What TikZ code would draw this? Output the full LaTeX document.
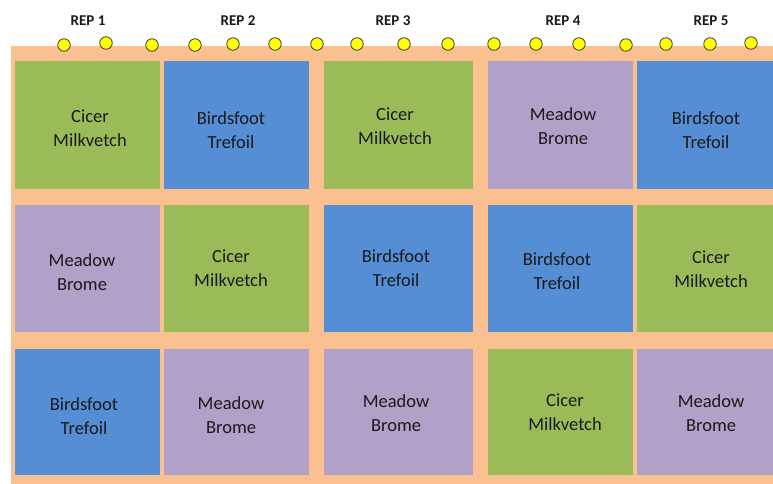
\documentclass[tikz,border=0pt]{standalone}
\usepackage{fontspec}
\setmainfont{Carlito}
\definecolor{cgreen}{HTML}{9BBB59}
\definecolor{cblue}{HTML}{558ED5}
\definecolor{cpurple}{HTML}{B1A0C7}
\definecolor{corange}{HTML}{FAC090}
\definecolor{cdot}{HTML}{FFFF00}
\definecolor{ctext}{HTML}{1A1A1A}
\begin{document}
\begin{tikzpicture}[x=1pt,y=-1pt,
  cell/.style={anchor=north west,inner sep=0pt,outer sep=0pt,draw=none},
  lbl/.style={align=center,inner sep=0pt,text=ctext,font=\fontsize{18.5}{23.5}\selectfont},
  rep/.style={inner sep=0pt,text=ctext,font=\fontsize{15}{17}\selectfont\bfseries},
  dot/.style={circle,fill=cdot,draw=black!75,line width=0.8pt,minimum size=12.5pt,inner sep=0pt}]
\useasboundingbox (0,0) rectangle (773,484);
\fill[white] (0,0) rectangle (773,484);
\node[cell,fill=corange,minimum width=762pt,minimum height=438pt] (field) at (11,46) {};
% cells
\foreach \n/\x/\y/\w/\h/\c in {
 c11/15/61/145/128/cgreen, c12/164/61/145/128/cblue, c13/324/61/149/128/cgreen, c14/488/61/145/128/cpurple, c15/637/61/136/128/cblue,
 c21/15/205/145/127/cpurple, c22/164/205/145/127/cgreen, c23/324/205/149/127/cblue, c24/488/205/145/127/cblue, c25/637/205/136/127/cgreen,
 c31/15/349/145/126/cblue, c32/164/349/145/126/cpurple, c33/324/349/149/126/cpurple, c34/488/349/145/126/cgreen, c35/637/349/136/126/cpurple}
 {\node[cell,fill=\c,minimum width=\w pt,minimum height=\h pt] (\n) at (\x,\y) {};}
% labels
\node[lbl] (t11) at (90,128) {Cicer\\Milkvetch};
\node[lbl] (t12) at (231,130) {Birdsfoot\\Trefoil};
\node[lbl] (t13) at (395,126) {Cicer\\Milkvetch};
\node[lbl] (t14) at (563,126) {Meadow\\Brome};
\node[lbl] (t15) at (706,130) {Birdsfoot\\Trefoil};
\node[lbl] (t21) at (82,272) {Meadow\\Brome};
\node[lbl] (t22) at (231,268) {Cicer\\Milkvetch};
\node[lbl] (t23) at (396,268) {Birdsfoot\\Trefoil};
\node[lbl] (t24) at (557,271) {Birdsfoot\\Trefoil};
\node[lbl] (t25) at (711,269) {Cicer\\Milkvetch};
\node[lbl] (t31) at (84,416) {Birdsfoot\\Trefoil};
\node[lbl] (t32) at (231,415) {Meadow\\Brome};
\node[lbl] (t33) at (396,413) {Meadow\\Brome};
\node[lbl] (t34) at (565,412) {Cicer\\Milkvetch};
\node[lbl] (t35) at (711,413) {Meadow\\Brome};
% rep labels
\node[rep] (r1) at (88,21) {REP 1};
\node[rep] (r2) at (238,21) {REP 2};
\node[rep] (r3) at (393,21) {REP 3};
\node[rep] (r4) at (563,21) {REP 4};
\node[rep] (r5) at (711,21) {REP 5};
% dots
\foreach \i/\x/\y in {1/64/45,2/106/43,3/152/45,4/195/45,5/233/44,6/275/44,7/317/44,8/357/44,9/404/44,10/448/44,11/494/44,12/536/44,13/579/44,14/626/45,15/666/44,16/710/44,17/751/43}
 {\node[dot] (d\i) at (\x,\y) {};}
\end{tikzpicture}
\end{document}
